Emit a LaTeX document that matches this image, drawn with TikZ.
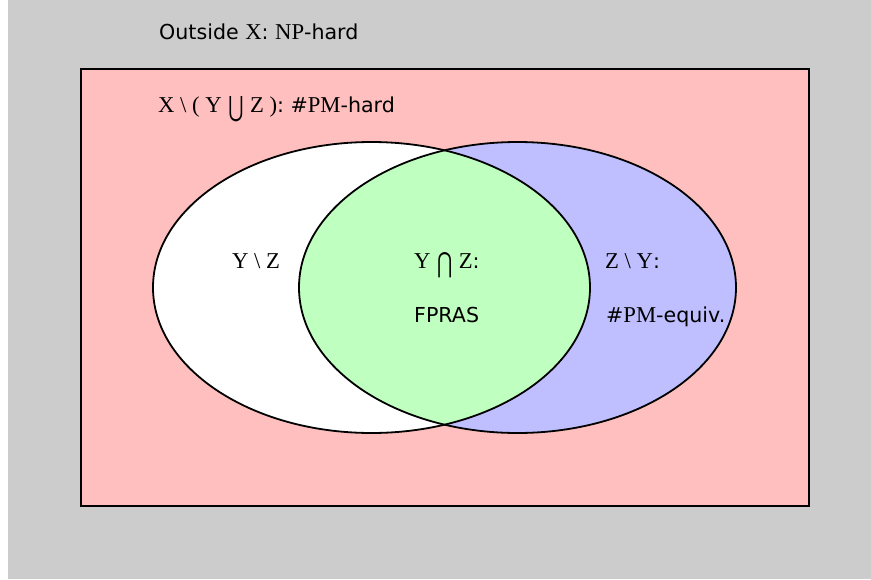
\documentclass[tikz,border=0pt]{standalone}
\usepackage{fontspec}
\usepackage{graphicx}
\setmainfont{DejaVu Sans}
\newfontfamily\vf[Scale=1.1]{Liberation Serif}
\newfontfamily\symf{DejaVu Sans}
\definecolor{bggray}{HTML}{CCCCCC}
\definecolor{xpink}{HTML}{FFBFBF}
\definecolor{zblue}{HTML}{BFBFFF}
\definecolor{ygreen}{HTML}{BFFFBF}
\newcommand\sv[1]{{\vf #1}}
\newcommand\bcup{\raisebox{-0.22em}{\scalebox{0.9}[1.35]{\symf ⋃}}}
\newcommand\bcap{\raisebox{-0.22em}{\scalebox{0.9}[1.35]{\symf ⋂}}}
\newcommand\sm{{\vf\textbackslash}}
\tikzset{
  lbl/.style={anchor=base west, inner sep=0pt, font=\fontsize{20.6}{24}\selectfont},
  outline/.style={draw=black, line width=1.8pt},
}
\begin{document}
\begin{tikzpicture}[x=1pt,y=-1pt]
\useasboundingbox (0,0) rectangle (871,579);
\fill[white] (0,0) rectangle (871,579);
\fill[bggray] (8,0) rectangle (871,579);
% X set
\filldraw[fill=xpink, outline] (81,69) rectangle (809,506);
% Y and Z
\fill[white] (371.5,287.5) ellipse [x radius=218.5pt, y radius=145.5pt];
\fill[zblue] (517.5,287.5) ellipse [x radius=218.5pt, y radius=145.5pt];
\begin{scope}
  \clip (371.5,287.5) ellipse [x radius=218.5pt, y radius=145.5pt];
  \fill[ygreen] (517.5,287.5) ellipse [x radius=218.5pt, y radius=145.5pt];
\end{scope}
\draw[outline] (371.5,287.5) ellipse [x radius=218.5pt, y radius=145.5pt];
\draw[outline] (517.5,287.5) ellipse [x radius=218.5pt, y radius=145.5pt];
% labels
\node[lbl] (outside) at (159,39) {Outside \sv{X}: \sv{NP}-hard};
\node[lbl] (xminus) at (158,112) {\sv{X \sm{} ( Y} \bcup{} \sv{Z )}: \#\sv{PM}-hard};
\node[lbl] (yminus) at (232,268) {\sv{Y \sm{} Z}};
\node[lbl] (ycapz) at (414,268) {\sv{Y} \bcap{} \sv{Z}:};
\node[lbl] (fpras) at (414,322.5) {FPRAS};
\node[lbl] (zminus) at (605,268) {\sv{Z \sm{} Y}:};
\node[lbl] (equiv) at (606,322) {\#\sv{PM}-equiv.};
\end{tikzpicture}
\end{document}
